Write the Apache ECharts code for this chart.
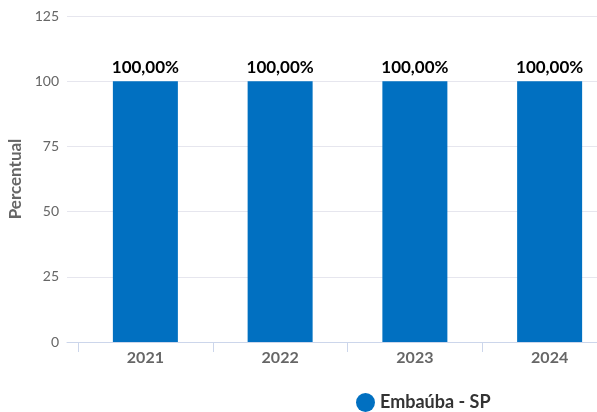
<!DOCTYPE html>
<html>
<head>
<meta charset="utf-8">
<script src="https://cdn.jsdelivr.net/npm/echarts@6/dist/echarts.min.js"></script>
<style>
  html, body { margin: 0; padding: 0; background: #fff; }
  #chart { width: 597px; height: 412px; }
</style>
</head>
<body>
<div id="chart"></div>
<script>
// Anos e percentuais da série
const categories = ['2021', '2022', '2023', '2024'];
const seriesName = 'Embaúba - SP';
const values = [100, 100, 100, 100];
const yTicks = [0, 25, 50, 75, 100, 125];

const FONT = 'Lato, "Open Sans", sans-serif';
const chart = echarts.init(document.getElementById('chart'));

chart.setOption({
  animation: false,
  textStyle: { fontFamily: FONT },
  legend: {
    data: [seriesName],
    left: 351,
    top: 388,
    icon: 'circle',
    itemWidth: 19,
    itemHeight: 19,
    itemGap: 5,
    textStyle: { fontFamily: FONT, fontSize: 18, fontWeight: 'bold', color: '#333' }
  },
  grid: [
    // background grid: split lines, y labels, baseline
    { left: 67, right: 0, top: 16, bottom: 70, outerBoundsMode: 'none' },
    // bars and category ticks (last band runs past the right edge)
    { left: 78, width: 539, top: 16, bottom: 70, outerBoundsMode: 'none' }
  ],
  xAxis: [
    {
      type: 'category', gridIndex: 0, data: categories,
      axisLine: { lineStyle: { color: '#ccd6eb' } },
      axisTick: { show: false },
      axisLabel: { show: false }
    },
    {
      type: 'category', gridIndex: 1, data: categories,
      axisLine: { show: false },
      axisTick: { show: true, length: 10, lineStyle: { color: '#ccd6eb' } },
      axisLabel: { fontFamily: FONT, fontSize: 16, fontWeight: 'bold', color: '#666', margin: 8 }
    }
  ],
  yAxis: [
    {
      type: 'value', gridIndex: 0, min: yTicks[0], max: yTicks[yTicks.length - 1], interval: 25,
      name: 'Percentual', nameLocation: 'middle', nameGap: 41,
      nameTextStyle: { fontFamily: FONT, fontSize: 17, fontWeight: 'bold', color: '#666' },
      axisLine: { show: false }, axisTick: { show: false },
      axisLabel: { fontFamily: FONT, fontSize: 14, color: '#666', margin: 8 },
      splitLine: { lineStyle: { color: '#e6e6ee' } }
    },
    {
      type: 'value', gridIndex: 1, min: yTicks[0], max: yTicks[yTicks.length - 1], interval: 25,
      show: false
    }
  ],
  series: [
    {
      name: seriesName,
      type: 'bar',
      xAxisIndex: 1, yAxisIndex: 1,
      data: values,
      barWidth: 65,
      itemStyle: { color: '#0170c1' },
      label: {
        show: true, position: 'top', distance: 5,
        fontFamily: FONT, fontSize: 17, fontWeight: 'bold', color: '#000',
        formatter: p => p.value.toFixed(2).replace('.', ',') + '%'
      }
    }
  ]
});
</script>
</body>
</html>
